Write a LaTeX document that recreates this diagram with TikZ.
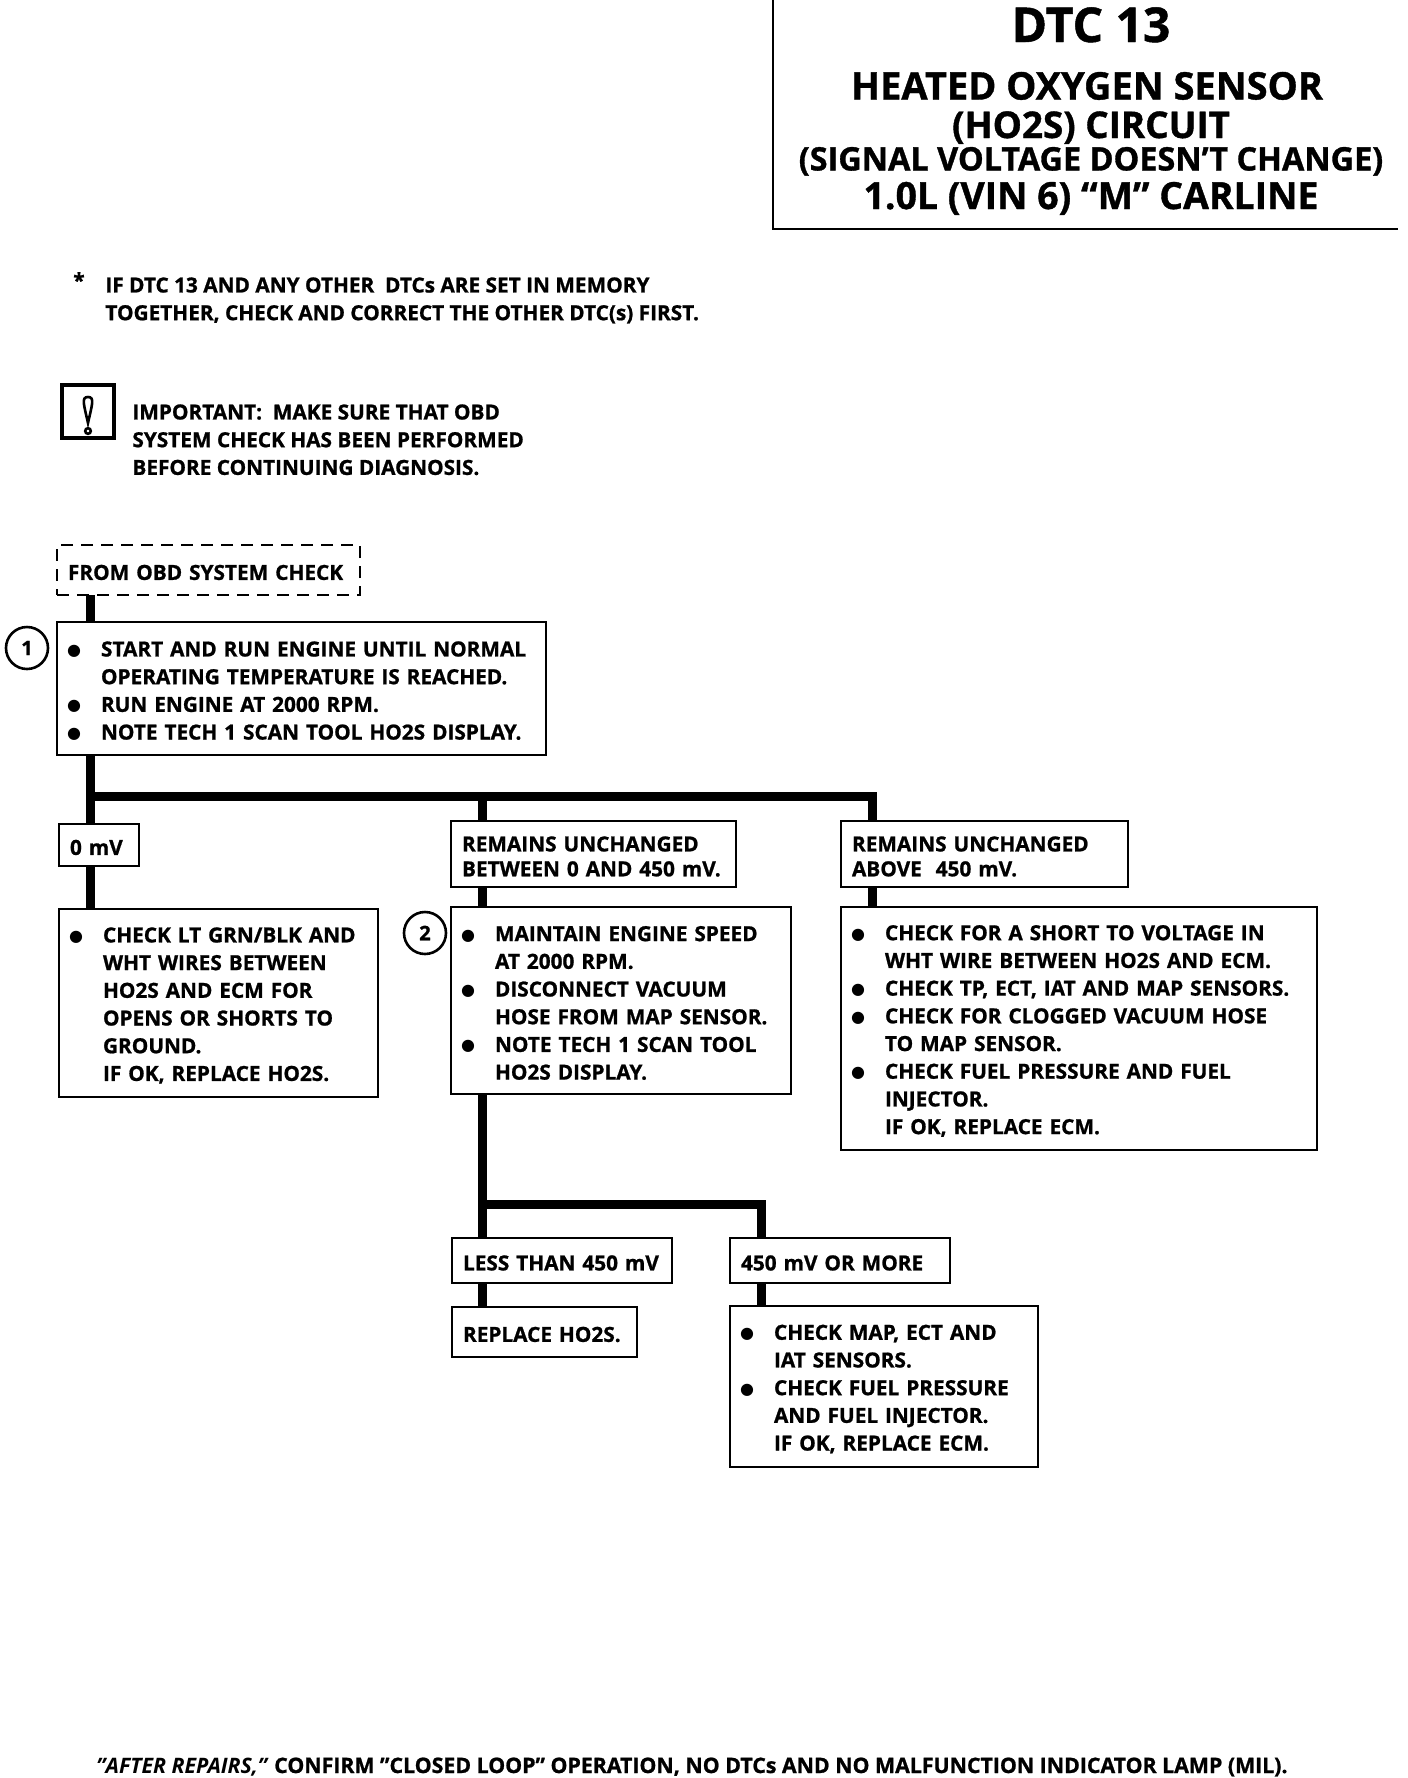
\documentclass[tikz,border=0pt]{standalone}
\usepackage{fontspec}
\setmainfont{Open Sans}[BoldFeatures={FakeBold=1}]
\newfontfamily\bulfont{DejaVu Sans}
\usetikzlibrary{positioning}
\newcommand{\bl}{\makebox[16.5pt][l]{\raisebox{.5pt}{\hspace*{-.5pt}\bulfont\mdseries\fontsize{8}{10}\selectfont ●}}}
\newcommand{\nb}{\hspace*{16.5pt}}
\tikzset{
  txt/.style={font=\bfseries\fontsize{10.4}{13.85}\selectfont},
  procbox/.style 2 args={draw,line width=1.3pt,outer sep=0pt,inner xsep=5.5pt,
    inner ysep=0pt,text width=#1-11pt,minimum height=#2,align=left,txt,
    anchor=north west,execute at begin node={\rule{0pt}{10pt}}},
  dashbox/.style={procbox={#1}{25pt},dash pattern=on 6pt off 4pt},
  stepcirc/.style={circle,draw,line width=1.3pt,minimum size=21pt,inner sep=0pt,
    outer sep=0pt,font=\bfseries\fontsize{10}{12}\selectfont,anchor=east},
  notetxt/.style={txt,align=left,anchor=north west,inner sep=0pt},
  ttl/.style={anchor=base,inner sep=0pt,font=\bfseries\fontsize{#1}{#1}\selectfont},
  flow/.style={line width=4.5pt,line cap=butt},
  frame/.style={line width=1.3pt,line cap=rect},
}
\begin{document}
\begin{tikzpicture}[x=0.5pt,y=-0.5pt]
  \useasboundingbox (0,0) rectangle (1408,1778);
  \coordinate (frametop) at (773,0);
  \coordinate (framecorner) at (773,229);
  \coordinate (frameend) at (1397,229);
  \draw[frame] (frametop) -- (framecorner) -- (frameend);
  \node[ttl=24] (t1) at (1091,42) {DTC 13};
  \node[ttl=19] (t2) at (1087,99.5) {HEATED OXYGEN SENSOR};
  \node[ttl=18.4] (t3) at (1091,138) {(HO2S) CIRCUIT};
  \node[ttl=16.2] (t4) at (1091,170.5) {(SIGNAL VOLTAGE DOESN’T CHANGE)};
  \node[ttl=18.7] (t5) at (1091,209) {1.0L (VIN 6) “M” CARLINE};

  \node[txt,inner sep=0pt] (star) at (79,280) {*};
  \node[notetxt] (note) at (105,277) {IF DTC 13 AND ANY OTHER\ \ DTCs ARE SET IN MEMORY\\
    TOGETHER, CHECK AND CORRECT THE OTHER DTC(s) FIRST.};
  \node[draw,line width=2.4pt,minimum width=26pt,minimum height=26.5pt,outer sep=0pt]
    (icon) at (88,411.5) {};
  \draw[line width=1.3pt] (88,397) .. controls (81,397) and (84,405) .. (88,423)
    .. controls (92,405) and (95,397) .. (88,397);
  \draw[line width=1.3pt] (88,431) circle[radius=1.4pt];
  \node[notetxt] (important) at (132,404) {IMPORTANT:\ \ MAKE SURE THAT OBD\\
    SYSTEM CHECK HAS BEEN PERFORMED\\
    BEFORE CONTINUING DIAGNOSIS.};

  \node[dashbox=151.5pt] (fromobd) at (57,545) {FROM OBD SYSTEM CHECK};
  \node[procbox={244.5pt}{66.5pt},below=13.5pt of fromobd.south west,anchor=north west] (start)
    {\bl START AND RUN ENGINE UNTIL NORMAL\\
     \nb OPERATING TEMPERATURE IS REACHED.\\
     \bl RUN ENGINE AT 2000 RPM.\\
     \bl NOTE TECH 1 SCAN TOOL HO2S DISPLAY.};
  \node[stepcirc,left=4.5pt of start.north west,anchor=east,yshift=-13pt] (stepa) {1};

  \node[procbox={40pt}{21pt},below=34.5pt of start.south west,anchor=north west,xshift=1pt] (zeromv) {0 mV};
  \node[procbox={142.5pt}{33pt},right=156pt of zeromv.north east,anchor=north west,yshift=1.5pt] (unchb)
    {REMAINS UNCHANGED\\[-1.4pt]BETWEEN 0 AND 450 mV.};
  \node[procbox={143.5pt}{33pt},right=52.5pt of unchb.north east,anchor=north west] (unchc)
    {REMAINS UNCHANGED\\[-1.4pt]ABOVE\ \ 450 mV.};

  \node[procbox={159.5pt}{94pt},below=21.5pt of zeromv.south west,anchor=north west] (checka)
    {\bl CHECK LT GRN/BLK AND\\
     \nb WHT WIRES BETWEEN\\
     \nb HO2S AND ECM FOR\\
     \nb OPENS OR SHORTS TO\\
     \nb GROUND.\\
     \nb IF OK, REPLACE HO2S.};
  \node[procbox={170pt}{93.5pt},below=10pt of unchb.south west,anchor=north west] (maintain)
    {\bl MAINTAIN ENGINE SPEED\\
     \nb AT 2000 RPM.\\
     \bl DISCONNECT VACUUM\\
     \nb HOSE FROM MAP SENSOR.\\
     \bl NOTE TECH 1 SCAN TOOL\\
     \nb HO2S DISPLAY.};
  \node[stepcirc,left=2.5pt of maintain.north west,anchor=east,yshift=-13pt] (stepb) {2};
  \node[procbox={238pt}{121.5pt},below=10pt of unchc.south west,anchor=north west] (checkc)
    {\bl CHECK FOR A SHORT TO VOLTAGE IN\\
     \nb WHT WIRE BETWEEN HO2S AND ECM.\\
     \bl CHECK TP, ECT, IAT AND MAP SENSORS.\\
     \bl CHECK FOR CLOGGED VACUUM HOSE\\
     \nb TO MAP SENSOR.\\
     \bl CHECK FUEL PRESSURE AND FUEL\\
     \nb INJECTOR.\\
     \nb IF OK, REPLACE ECM.};

  \node[procbox={110pt}{22.5pt},below=72pt of maintain.south west,anchor=north west,xshift=.5pt] (less)
    {LESS THAN 450 mV};
  \node[procbox={110pt}{22.5pt},right=29pt of less.north east,anchor=north west] (more)
    {450 mV OR MORE};
  \node[procbox={92.5pt}{25pt},below=12pt of less.south west,anchor=north west] (replace)
    {REPLACE HO2S.};
  \node[procbox={154pt}{80.5pt},below=11.5pt of more.south west,anchor=north west] (checke)
    {\bl CHECK MAP, ECT AND\\
     \nb IAT SENSORS.\\
     \bl CHECK FUEL PRESSURE\\
     \nb AND FUEL INJECTOR.\\
     \nb IF OK, REPLACE ECM.};

  \coordinate (busa) at (90,796);
  \coordinate (busb) at (482,796);
  \coordinate (busc) at (872,796);
  \coordinate (busd) at (482,1204);
  \coordinate (buse) at (761,1204);
  \draw[flow] (busa |- fromobd.south) -- (busa |- start.north);
  \draw[flow] (busa |- start.south) -- (busa |- zeromv.north);
  \draw[flow] (busa |- zeromv.south) -- (busa |- checka.north);
  \draw[flow] (busa) -- (busc) -- (busc |- unchc.north);
  \draw[flow] (busb) -- (busb |- unchb.north);
  \draw[flow] (busb |- unchb.south) -- (busb |- maintain.north);
  \draw[flow] (busc |- unchc.south) -- (busc |- checkc.north);
  \draw[flow] (busd |- maintain.south) -- (busd |- less.north);
  \draw[flow] (busd) -- (buse) -- (buse |- more.north);
  \draw[flow] (busd |- less.south) -- (busd |- replace.north);
  \draw[flow] (buse |- more.south) -- (buse |- checke.north);

  \node[ttl=10.65] (after) at (692,1773)
    {\textit{"AFTER REPAIRS,"} CONFIRM "CLOSED LOOP" OPERATION, NO DTCs AND NO MALFUNCTION INDICATOR LAMP (MIL).};
\end{tikzpicture}
\end{document}
